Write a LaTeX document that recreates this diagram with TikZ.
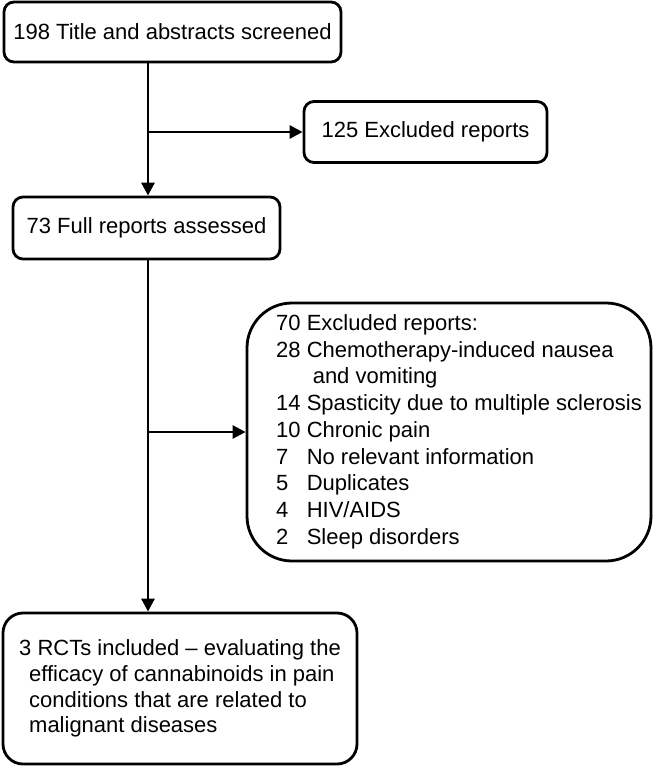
\documentclass[tikz,border=0pt]{standalone}
\usepackage{fontspec}
\setmainfont{Liberation Sans}
\usetikzlibrary{arrows.meta}

\tikzset{every picture/.style={line width=2.8pt}}
\tikzset{
  flowbox/.style={draw, rounded corners=10pt, inner sep=0pt, align=center, font=\fontsize{22}{26.7}\selectfont},
  flowarrow/.style={-{Triangle[length=13pt,width=13pt]}}
}

\begin{document}
\begin{tikzpicture}[x=1pt,y=1pt,yscale=-1]
\useasboundingbox (0,0) rectangle (653,767);

%Shape: Rounded Rect [screened]
\node [flowbox, minimum width=337pt, minimum height=60pt] (screened) at (172.5,32) {198 Title and abstracts screened};
%Shape: Rounded Rect [first exclusion]
\node [flowbox, minimum width=243pt, minimum height=61pt] (exclA) at (425.5,132) {125 Excluded reports};
%Shape: Rounded Rect [assessed]
\node [flowbox, minimum width=267pt, minimum height=62pt] (assessed) at (146.5,228) {73 Full reports assessed};
%Shape: Rounded Rect [second exclusion]
\node [flowbox, rounded corners=45pt, minimum width=404pt, minimum height=258pt] (exclB) at (449,432) {%
\begin{tabular}{@{\hspace{20pt}}l@{\ }l@{}}
70 & Excluded reports:\\
28 & Chemotherapy-induced nausea\\
   & \hspace{6pt}and vomiting\\
14 & Spasticity due to multiple sclerosis\\
10 & Chronic pain\\
7  & No relevant information\\
5  & Duplicates\\
4  & HIV/AIDS\\
2  & Sleep disorders
\end{tabular}};
%Shape: Rounded Rect [included]
\node [flowbox, rounded corners=20pt, minimum width=354pt, minimum height=151pt, align=left, font=\fontsize{22}{25.7}\selectfont] (included) at (180,688.5) {3 RCTs included -- evaluating the\\
\hspace{10pt}efficacy of cannabinoids in pain\\
\hspace{10pt}conditions that are related to\\
\hspace{10pt}malignant diseases};

%Connectors
\coordinate (splitA) at (148,132);
\coordinate (splitB) at (148,432);
\draw [flowarrow] (screened.south -| splitA) -- (assessed.north -| splitA);
\draw [flowarrow] (splitA) -- (exclA.west);
\draw [flowarrow] (assessed.south -| splitB) -- (included.north -| splitB);
\draw [flowarrow] (splitB) -- (exclB.west);

\end{tikzpicture}
\end{document}
